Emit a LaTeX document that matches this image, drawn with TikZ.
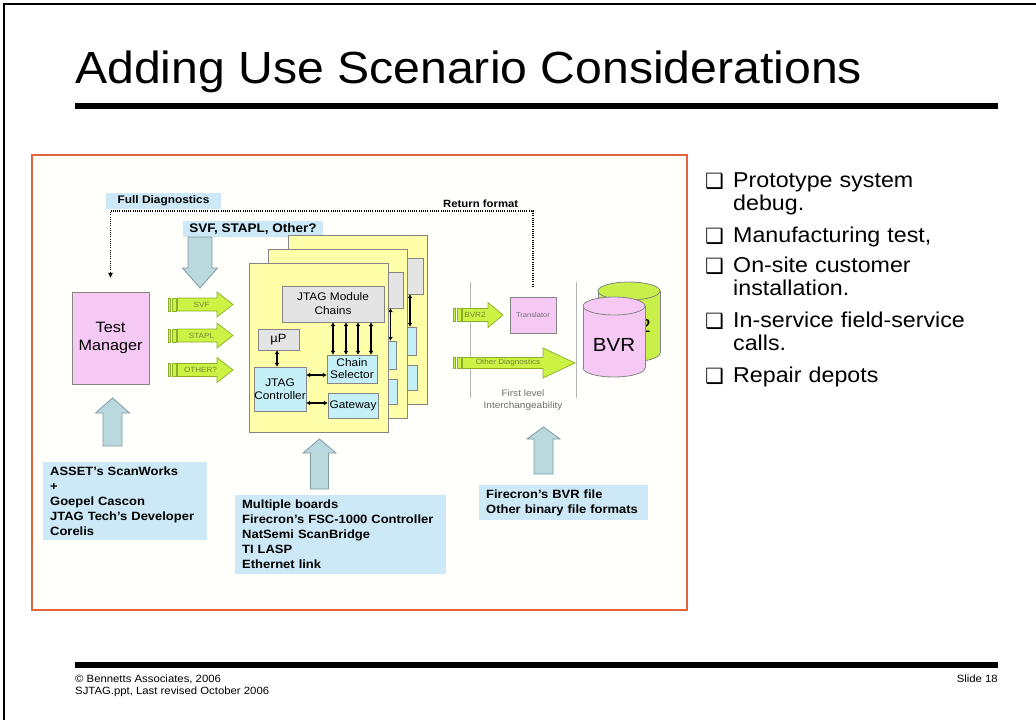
\documentclass[tikz,border=0pt]{standalone}
\usepackage{fontspec}
\usepackage{graphicx}
\setmainfont{Liberation Sans}[FakeStretch=1.08]
\newfontfamily\symfont{DejaVu Sans}
\usetikzlibrary{arrows.meta}

\newcommand{\setfs}[2]{\fontsize{#1}{#2}\selectfont}

\definecolor{frameorange}{HTML}{E6643C}
\definecolor{framefill}{HTML}{FFFFFB}
\definecolor{labelblue}{HTML}{CDE9F7}
\definecolor{boardyellow}{HTML}{FFFFAA}
\definecolor{boxline}{HTML}{858585}
\definecolor{chaingrey}{HTML}{E4E4E4}
\definecolor{ctrlcyan}{HTML}{C6F0F8}
\definecolor{mgrpink}{HTML}{F6C9F4}
\definecolor{drumgreen}{HTML}{C9F04A}
\definecolor{arrowgreen}{HTML}{CCF244}
\definecolor{arrowgreenline}{HTML}{8AAF2A}
\definecolor{arrowgreentext}{HTML}{76883A}
\definecolor{bigfill}{HTML}{B9D9DE}
\definecolor{bigline}{HTML}{7E9AA2}
\definecolor{sepgrey}{HTML}{B4B4B4}
\definecolor{softtext}{HTML}{6E6E6E}

\tikzset{
  lbl/.style={fill=labelblue, inner sep=0, font=\bfseries\setfs{12}{15}},
  board/.style={draw=boxline, fill=boardyellow, minimum width=139, minimum height=169, inner sep=0},
  greybox/.style={draw=boxline, fill=chaingrey, inner sep=0, align=center, font=\setfs{11}{14}},
  cyanbox/.style={draw=boxline, fill=ctrlcyan, inner sep=0, align=center, font=\setfs{11}{13}},
  pinkbox/.style={draw=boxline, fill=mgrpink, inner sep=0, align=center},
  dblarrow/.style={line width=1.6, {Latex[length=4pt,width=5pt]}-{Latex[length=4pt,width=5pt]}},
  greenarrow/.style={draw=arrowgreenline, fill=arrowgreen, line width=0.7},
  gtext/.style={inner sep=0, text=arrowgreentext, font=\setfs{7.5}{9}},
  bigarrow/.style={draw=bigline, fill=bigfill, line width=0.8},
  diagline/.style={line width=1.1, dash pattern=on 1.1pt off 1.1pt},
  sepline/.style={draw=sepgrey, line width=0.8},
  drumline/.style={draw=boxline, line width=0.8},
  bulletmark/.style={anchor=base west, inner sep=0, font=\symfont\setfs{21}{23}},
  bullettext/.style={anchor=base west, inner sep=0, text width=290, align=left, font=\setfs{21.5}{23}},
  foot/.style={inner sep=0, font=\setfs{10.5}{13}}
}

% vertical block arrow: x centre, tip y, head-base y, tail y, shaft half width, head half width
\newcommand{\vblock}[6]{%
  \draw[bigarrow] ({#1-#5},#4) -- ({#1-#5},#3) -- ({#1-#6},#3) -- (#1,#2)
    -- ({#1+#6},#3) -- ({#1+#5},#3) -- ({#1+#5},#4) -- cycle;}

% striped right arrow: stripe x, head-base x, tip x, centre y, body half height, head half height
\newcommand{\stripearrow}[6]{%
  \draw[greenarrow] (#1,{#4-#5}) rectangle ({#1+2.5},{#4+#5});
  \draw[greenarrow] ({#1+4},{#4-#5}) rectangle ({#1+8},{#4+#5});
  \draw[greenarrow] ({#1+9.5},{#4-#5}) -- (#2,{#4-#5}) -- (#2,{#4-#6}) -- (#3,#4)
    -- (#2,{#4+#6}) -- (#2,{#4+#5}) -- ({#1+9.5},{#4+#5}) -- cycle;}

% upright drum: x centre, top centre y, bottom centre y, x radius, y radius, fill colour
\newcommand{\drum}[6]{%
  \filldraw[fill=#6, drumline] (#1,#3) ellipse [x radius=#4, y radius=#5];
  \fill[#6] ({#1-#4},#2) rectangle ({#1+#4},#3);
  \draw[drumline] ({#1-#4},#2) -- ({#1-#4},#3) ({#1+#4},#2) -- ({#1+#4},#3);
  \filldraw[fill=#6, drumline] (#1,#2) ellipse [x radius=#4, y radius=#5];}

% one JTAG board with its blocks; #1 name prefix, #2 offset, #3 = 1 to letter the blocks
\newcommand{\jtagboard}[3]{%
  \begin{scope}[shift={#2}]
    \node[board] (#1board) at (318.5,347.5) {};
    \node[greybox, minimum width=102, minimum height=36] (#1chains) at (333,304) {\ifnum#3=1 JTAG Module\\Chains\fi};
    \node[greybox, minimum width=41, minimum height=21, font=\setfs{12}{14}] (#1up) at (278.5,339.5) {\ifnum#3=1 µP\fi};
    \node[cyanbox, minimum width=52, minimum height=44] (#1ctrl) at (280,389) {\ifnum#3=1 JTAG\\Controller\fi};
    \node[cyanbox, minimum width=50, minimum height=28, font=\setfs{11}{12}] (#1sel) at (352,369) {\ifnum#3=1 Chain\\Selector\fi};
    \node[cyanbox, minimum width=50, minimum height=25] (#1gate) at (353,405.5) {\ifnum#3=1 Gateway\fi};
    \draw[dblarrow] (#1up.south -| 277,0) -- (#1ctrl.north -| 277,0);
    \draw[dblarrow] (#1ctrl.east |- 0,375) -- (#1sel.west |- 0,375);
    \draw[dblarrow] (#1ctrl.east |- 0,403) -- (#1gate.west |- 0,403);
    \foreach \cx in {333,346,358,371}
      \draw[dblarrow] (#1chains.south -| \cx,0) -- (#1sel.north -| \cx,0);
  \end{scope}}

\begin{document}
\begin{tikzpicture}[x=1pt,y=-1pt]
\useasboundingbox (0,0) rectangle (1036,720);
\fill[white] (0,0) rectangle (1036,720);

% slide edge
\draw[line width=1.5] (4,720) -- (4,4) -- (1036,4);

% heading and rules
\node[anchor=base west, inner sep=0] (title) at (75,83)
  {\resizebox{787pt}{\height}{\setfs{45}{54}Adding Use Scenario Considerations}};
\draw[line width=5.5] (75,106) -- (998,106);
\draw[line width=5.5] (75,665) -- (998,665);

% footer
\node[foot, anchor=base west] (copy) at (75,682) {© Bennetts Associates, 2006};
\node[foot, anchor=base west] (file) at (75,694) {SJTAG.ppt, Last revised October 2006};
\node[foot, anchor=base east] (slideno) at (998,682) {Slide 18};

% bullet list
\node[bulletmark] (m1) at (705,188) {❑};
\node[bulletmark] (m2) at (705,243) {❑};
\node[bulletmark] (m3) at (705,273) {❑};
\node[bulletmark] (m4) at (705,328) {❑};
\node[bulletmark] (m5) at (705,383) {❑};
\node[bullettext] (i1) at (733,187) {Prototype system\\debug.};
\node[bullettext] (i2) at (733,242) {Manufacturing test,};
\node[bullettext] (i3) at (733,272) {On-site customer\\installation.};
\node[bullettext] (i4) at (733,327) {In-service field-service\\calls.};
\node[bullettext] (i5) at (733,382) {Repair depots};

% diagram panel
\draw[draw=frameorange, line width=2, fill=framefill] (32,155) rectangle (687,610);

% first-level interchangeability zone
\draw[sepline] (470,282) -- (470,398);
\draw[sepline] (576,282) -- (576,398);
\node[inner sep=0, align=center, text=softtext, font=\setfs{9.3}{12}] (flvl) at (523,400)
  {First level\\Interchangeability};

% labels along the top
\node[lbl, minimum width=115, minimum height=16, font=\bfseries\setfs{11}{13}] (fulldiag) at (163.5,201) {Full Diagnostics};
\node[lbl, minimum width=140, minimum height=16, font=\bfseries\setfs{12.5}{15}] (formats) at (253,229) {SVF, STAPL, Other?};
\node[anchor=base west, inner sep=0, font=\bfseries\setfs{10.5}{13}] (retfmt) at (443,207) {Return format};

% test manager and translator
\node[pinkbox, minimum width=77, minimum height=92, font=\setfs{15}{18}] (tm) at (110.5,338) {Test\\Manager};
\node[pinkbox, minimum width=46, minimum height=36, font=\setfs{7}{8}, text=softtext] (trans) at (533,315) {Translator};

% return path of the diagnostics
\coordinate (retrow) at (0,211);
\draw[diagline, -{Triangle[length=5pt,width=4.5pt]}, shorten <=10pt, shorten >=14pt]
  (trans.north) -- (trans.north |- retrow) -| (tm.north);

% striped data arrows
\stripearrow{168}{217}{233}{304.5}{6.5}{12.5}
\stripearrow{168}{217}{233}{335.5}{6.5}{12.5}
\stripearrow{168}{217}{233}{370}{6.5}{12.5}
\stripearrow{453}{488}{503}{315}{6.5}{12.5}
\stripearrow{453}{543}{575}{363}{5.5}{15}
\node[gtext] (svf) at (201.5,304.5) {SVF};
\node[gtext] (stapl) at (201.5,335.5) {STAPL};
\node[gtext] (other) at (200.5,370) {OTHER?};
\node[gtext] (bvrtwo) at (475,315) {BVR2};
\node[gtext] (otherdiag) at (508,363) {Other Diagnostics};

% block arrows
\vblock{200}{288}{268}{237}{12}{17.5}
\vblock{112.5}{398}{413}{446}{9.5}{17}
\vblock{319.5}{439}{453}{489}{9}{16.5}
\vblock{543.5}{427}{439}{474}{9.5}{16.5}

% stacked boards, back to front
\jtagboard{c}{(39,-28)}{0}
\jtagboard{b}{(19.5,-14)}{0}
\jtagboard{a}{(0,0)}{1}

% BVR files
\drum{629}{291}{353}{31}{9}{drumgreen}
\node[inner sep=0, font=\setfs{19}{22}] (bvrback) at (624,326) {BVR2};
\drum{614}{306}{368}{31}{9}{mgrpink}
\node[inner sep=0, font=\setfs{19}{22}] (bvr) at (614,345) {BVR};

% tool and format lists
\node[lbl, anchor=north west, text width=150, inner xsep=7, minimum height=78, align=left] (tools) at (43,462)
  {ASSET's ScanWorks\\+\\Goepel Cascon\\JTAG Tech's Developer\\Corelis};
\node[lbl, anchor=north west, text width=197, inner xsep=7, minimum height=79, align=left] (hw) at (235,495)
  {Multiple boards\\Firecron's FSC-1000 Controller\\NatSemi ScanBridge\\TI LASP\\Ethernet link};
\node[lbl, anchor=north west, text width=155, inner xsep=7, minimum height=35, align=left] (bvrfmt) at (479,485)
  {Firecron's BVR file\\Other binary file formats};
\end{tikzpicture}
\end{document}
